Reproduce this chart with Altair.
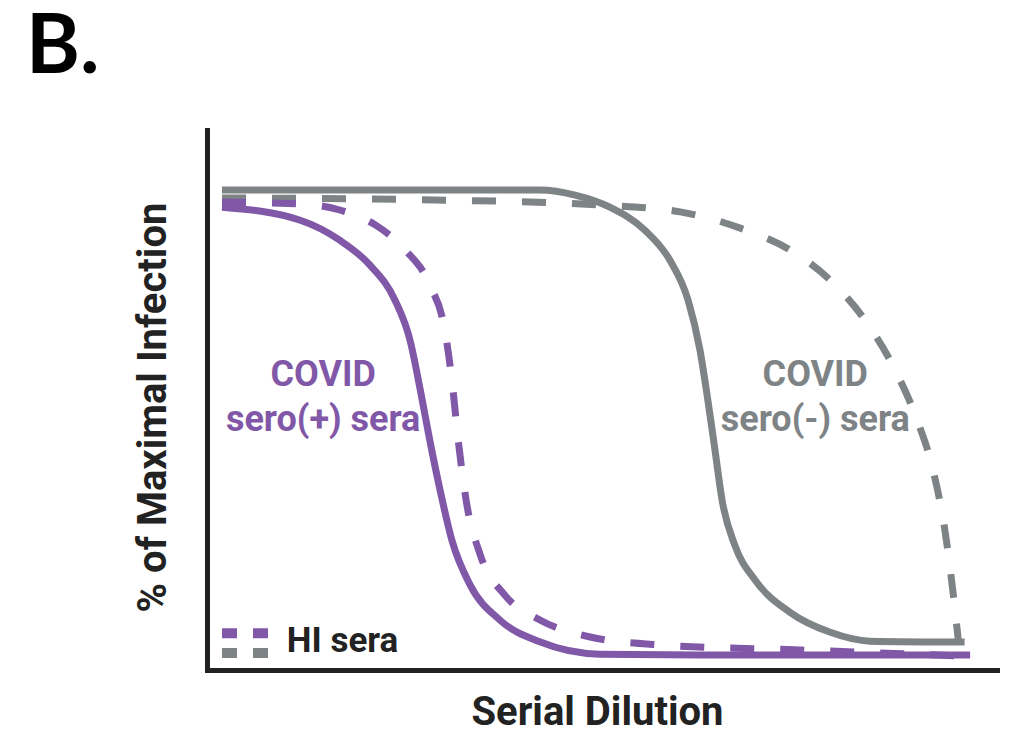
import altair as alt
import pandas as pd

PURPLE = "#8158a8"
GRAY = "#7e8386"
AXIS = "#222222"

# COVID sero(+) sera, solid
ps_x = [1.9, 11.8, 16.8, 20.6, 23.8, 25.7, 27.0, 28.2, 29.5, 31.0, 33.3, 37.1, 42.2, 49.7, 62.4, 96.6]
ps_y = [96.3, 93.5, 89.2, 83.9, 76.3, 67.7, 57.0, 46.2, 35.5, 24.7, 15.1, 7.5, 2.8, 0.2, 0.0, 0.0]
# HI sera of sero(+), dashed
pd_x = [1.9, 11.8, 16.8, 21.3, 25.1, 28.2, 30.1, 31.0, 31.8, 32.8, 34.6, 37.7, 42.2, 48.5, 57.3, 75.1, 95.9]
pd_y = [97.4, 97.0, 95.7, 92.5, 87.1, 79.6, 69.9, 59.1, 46.2, 33.3, 21.5, 12.9, 7.5, 3.9, 2.2, 1.1, -0.2]
# COVID sero(-) sera, solid
gs_x = [1.9, 42.2, 46.6, 51.0, 55.4, 58.6, 60.9, 62.4, 63.4, 64.3, 65.2, 66.8, 69.4, 73.8, 78.9, 83.9, 95.9]
gs_y = [100.0, 100.0, 98.9, 96.3, 91.4, 84.9, 76.3, 65.6, 54.8, 44.1, 33.3, 23.7, 16.1, 9.2, 4.9, 3.0, 2.8]
# HI sera of sero(-), dashed
gd_x = [1.9, 30.8, 49.7, 59.9, 67.5, 73.8, 78.9, 83.3, 87.1, 89.9, 91.9, 93.4, 94.4, 95.1]
gd_y = [98.3, 97.8, 96.8, 95.3, 91.8, 87.1, 80.6, 72.0, 61.3, 50.5, 39.8, 26.9, 14.0, 3.2]

# legend samples
leg_x = [1.9, 8.0]
leg_purple_y = [4.7, 4.7]
leg_gray_y = [0.43, 0.43]

# annotation labels
lab_text = ["COVID", "sero(+) sera", "COVID", "sero(-) sera", "HI sera"]
lab_x = [14.7, 14.7, 77.0, 77.0, 10.1]
lab_y = [60.2, 50.5, 60.2, 50.5, 3.0]
lab_series = ["pos", "pos", "neg", "neg", "hi"]

panel_label = ["B."]

X_DOMAIN = [0, 100]
Y_DOMAIN = [-3.2, 112.9]


def curve_df(xs, ys):
    return pd.DataFrame({"x": xs, "y": ys, "i": list(range(len(xs)))})


xenc = alt.X("x:Q", scale=alt.Scale(domain=X_DOMAIN, nice=False, zero=False),
             axis=alt.Axis(title="Serial Dilution", titleX=390, titleY=54,
                           titleBaseline="alphabetic"))
yenc = alt.Y("y:Q", scale=alt.Scale(domain=Y_DOMAIN, nice=False, zero=False),
             axis=alt.Axis(title="% of Maximal Infection", titleX=-34, titleY=277))


def line(xs, ys, color, dash=None, width=7):
    kw = dict(color=color, strokeWidth=width, strokeCap="butt", interpolate="monotone")
    if dash:
        kw["strokeDash"] = dash
    return alt.Chart(curve_df(xs, ys)).mark_line(**kw).encode(x=xenc, y=yenc, order="i:O")


gd = line(gd_x, gd_y, GRAY, [24, 26])
gs = line(gs_x, gs_y, GRAY)
pdl = line(pd_x, pd_y, PURPLE, [24, 26])
psl = line(ps_x, ps_y, PURPLE)
lp = line(leg_x, leg_purple_y, PURPLE, [15, 16], 10)
lg = line(leg_x, leg_gray_y, GRAY, [15, 16], 10)

labels = pd.DataFrame({"t": lab_text, "x": lab_x, "y": lab_y, "s": lab_series})
txt_center = alt.Chart(labels[labels.s != "hi"]).mark_text(
    font="Roboto", fontWeight="bold", fontSize=36, align="center", baseline="middle"
).encode(
    x=xenc, y=yenc, text="t:N",
    color=alt.Color("s:N", scale=alt.Scale(domain=["pos", "neg"], range=[PURPLE, GRAY]), legend=None),
)
txt_hi = alt.Chart(labels[labels.s == "hi"]).mark_text(
    font="Roboto", fontWeight="bold", fontSize=35, align="left", baseline="middle", color=AXIS
).encode(x=xenc, y=yenc, text="t:N")

title_txt = alt.Chart(pd.DataFrame({"t": panel_label})).mark_text(
    font="Lato", fontWeight="bold", fontSize=82, align="left", baseline="alphabetic", color="black"
).encode(x=alt.value(-181), y=alt.value(-57), text="t:N")

chart = alt.layer(gd, gs, pdl, psl, lp, lg, txt_center, txt_hi, title_txt).properties(
    width=790, height=540,
    autosize=alt.AutoSizeParams(type="none"),
    padding={"left": 199, "top": 122, "right": 8, "bottom": 58},
).configure_view(stroke=None).configure_axis(
    ticks=False, labels=False, grid=False,
    domainColor=AXIS, domainWidth=5, domainCap="square",
    titleFont="Roboto", titleFontWeight="bold", titleFontSize=40, titleColor=AXIS,
    titlePadding=0,
)

chart.save("out.html", embed_options={"renderer": "svg", "actions": False})
